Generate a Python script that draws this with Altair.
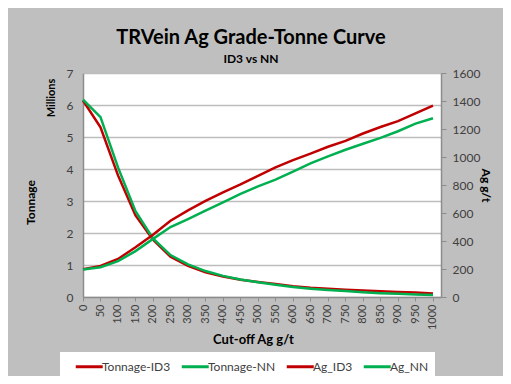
import altair as alt
import pandas as pd

cutoffs = [0, 50, 100, 150, 200, 250, 300, 350, 400, 450, 500,
           550, 600, 650, 700, 750, 800, 850, 900, 950, 1000]
tonnage_id3 = [6.14, 5.30, 3.80, 2.55, 1.79, 1.26, 0.97, 0.77, 0.64, 0.54, 0.47,
               0.41, 0.34, 0.29, 0.26, 0.23, 0.20, 0.18, 0.16, 0.14, 0.11]
tonnage_nn = [6.17, 5.62, 4.05, 2.68, 1.83, 1.31, 1.02, 0.81, 0.66, 0.55, 0.46,
              0.38, 0.31, 0.26, 0.22, 0.19, 0.15, 0.12, 0.10, 0.08, 0.06]
ag_id3 = [198, 222, 272, 355, 444, 545, 619, 686, 748, 805, 866,
          926, 978, 1024, 1073, 1115, 1168, 1214, 1256, 1311, 1367]
ag_nn = [197, 213, 256, 328, 415, 500, 557, 617, 676, 736, 790,
         838, 896, 955, 1004, 1052, 1095, 1137, 1184, 1238, 1277]

series_names = ["Tonnage-ID3", "Tonnage-NN", "Ag_ID3", "Ag_NN"]
series_colors = ["#C00000", "#00B050", "#C00000", "#00B050"]
x_ticks = cutoffs

ton_df = pd.concat([
    pd.DataFrame({"cutoff": cutoffs, "value": tonnage_id3, "series": "Tonnage-ID3"}),
    pd.DataFrame({"cutoff": cutoffs, "value": tonnage_nn, "series": "Tonnage-NN"}),
])
ag_df = pd.concat([
    pd.DataFrame({"cutoff": cutoffs, "value": ag_id3, "series": "Ag_ID3"}),
    pd.DataFrame({"cutoff": cutoffs, "value": ag_nn, "series": "Ag_NN"}),
])

FONT = "Lato"
GRID = "#BDBDBD"
AXIS = "#8C8C8C"
LAB = "#404040"

x_enc = alt.X(
    "cutoff:Q",
    scale=alt.Scale(domain=[0, 1022.86], nice=False, zero=False),
    axis=alt.Axis(
        title="Cut-off Ag g/t", values=x_ticks, format="d", labelAngle=270,
        labelFontSize=11, labelColor=LAB, labelFont=FONT, labelPadding=3, tickSize=4,
        tickColor=AXIS, domainColor=AXIS, domainWidth=1.5, grid=False, titleFont=FONT,
        titleFontSize=13, titleFontWeight="bold", titleColor="black", titleX=170,
        titleY=46, titleBaseline="alphabetic", titleAnchor="middle", labelOverlap=False,
    ),
)

color_enc = alt.Color(
    "series:N",
    title=None,
    scale=alt.Scale(domain=series_names, range=series_colors),
    sort=series_names,
    legend=alt.Legend(
        title=None, orient="none", legendX=-23, legendY=279, direction="horizontal",
        fillColor="white", padding=6, symbolType="M-1,0H3", symbolStrokeWidth=3,
        symbolSize=182, symbolOffset=8, labelFont=FONT, labelFontSize=12,
        labelColor=LAB, labelOffset=11, columnPadding=1,
    ),
)

ton = alt.Chart(ton_df).mark_line(strokeWidth=2.5).encode(
    x=x_enc,
    y=alt.Y(
        "value:Q",
        scale=alt.Scale(domain=[0, 7], nice=False),
        axis=alt.Axis(
            title="Tonnage", orient="left", values=[0, 1, 2, 3, 4, 5, 6, 7],
            labelFont=FONT, labelFontSize=12, labelColor=LAB, labelPadding=10,
            ticks=False, domainColor=AXIS, domainWidth=1.5, grid=True, gridColor=GRID,
            gridWidth=1.5, titleFont=FONT, titleFontSize=12, titleFontWeight="bold",
            titleColor="black", titleAngle=270, titleX=-53, titleY=129,
            titleAlign="center", titleBaseline="middle",
        ),
    ),
    color=color_enc,
)

ag = alt.Chart(ag_df).mark_line(strokeWidth=2.5).encode(
    x=x_enc,
    y=alt.Y(
        "value:Q",
        scale=alt.Scale(domain=[0, 1600], nice=False),
        axis=alt.Axis(
            title="Ag g/t", orient="right", values=list(range(0, 1601, 200)), format="d",
            labelFont=FONT, labelFontSize=12, labelColor=LAB, labelPadding=6,
            tickSize=5, tickColor=AXIS, domainColor=AXIS, domainWidth=1.5, grid=False,
            titleFont=FONT, titleFontSize=12, titleFontWeight="bold", titleColor="black",
            titleAngle=90, titleX=44, titleY=112, titleAlign="center",
            titleBaseline="middle",
        ),
    ),
    color=color_enc,
)

millions = alt.Chart(pd.DataFrame({"t": ["Millions"]})).mark_text(
    angle=270, font=FONT, fontSize=11, fontWeight="bold", color="black",
    align="center", baseline="middle",
).encode(x=alt.value(-31.5), y=alt.value(25), text="t:N")

chart = alt.layer(ton, ag, millions).resolve_scale(y="independent").properties(
    width=358,
    height=224,
    autosize=alt.AutoSizeParams(type="none"),
    padding={"left": 75, "top": 65, "right": 62, "bottom": 79},
    background="#BFBFBF",
    title=alt.TitleParams(
        text="TRVein Ag Grade-Tonne Curve", subtitle="ID3 vs NN", font=FONT,
        fontSize=20, fontWeight="bold", subtitleFont=FONT, subtitleFontSize=12,
        subtitleFontWeight="bold", color="black", subtitleColor="black",
        anchor="middle", offset=2, subtitlePadding=6, dx=-11,
    ),
).configure_view(fill="white", strokeWidth=0)

chart.save("out.html", embed_options={"renderer": "svg", "actions": False})
